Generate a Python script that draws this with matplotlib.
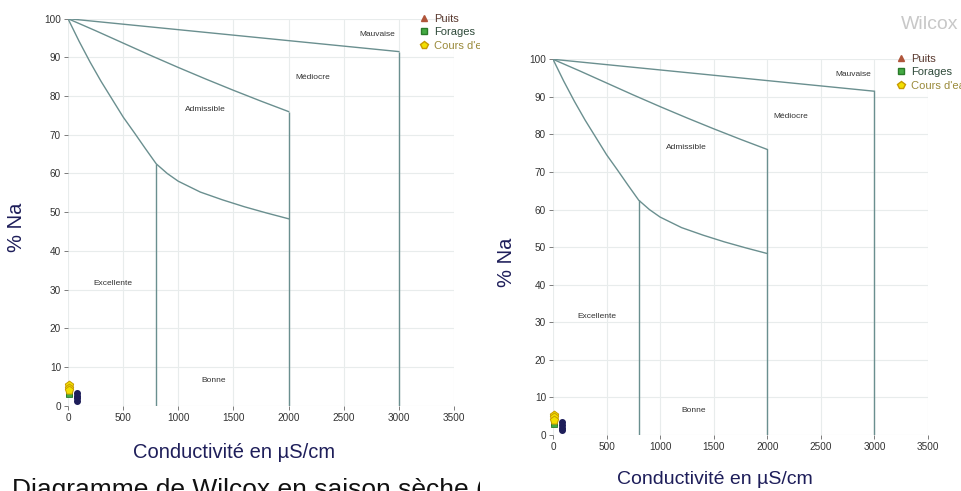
import matplotlib

matplotlib.use("Agg")
import matplotlib.pyplot as plt  # noqa: E402
from matplotlib.lines import Line2D  # noqa: E402
from matplotlib.patches import Rectangle  # noqa: E402

plt.rcParams["font.family"] = ["Liberation Sans", "DejaVu Sans"]

# Wilcox class boundaries (conductivity in uS/cm, % Na)
upper_x = [0, 3000]
upper_y = [100, 91.5]
middle_x = [0, 250, 500, 750, 1000, 1250, 1500, 1750, 2000]
middle_y = [100, 96.9, 93.7, 90.5, 87.4, 84.4, 81.5, 78.7, 76.0]
lower_x = [0, 100, 200, 300, 400, 500, 600, 700, 800, 900, 1000,
           1200, 1400, 1600, 1800, 2000]
lower_y = [100, 94.2, 88.8, 83.8, 79.2, 74.6, 70.6, 66.5, 62.5, 60.0, 58.0,
           55.2, 53.2, 51.4, 49.8, 48.3]
vert_x = [800, 2000, 3000]
vert_top = [62.5, 76.0, 91.5]

zone_names = ["Mauvaise", "Médiocre", "Admissible", "Excellente", "Bonne"]
zone_x = [2800, 2222, 1248, 405, 1316]
zone_y = [95.9, 84.7, 76.6, 31.6, 6.5]

# samples near the origin
cours_x = [12, 12, 12]
cours_y = [5.4, 4.7, 4.0]
forages_x = [12, 12]
forages_y = [3.4, 2.9]
autres_x = [80, 80, 80, 80]
autres_y = [3.4, 2.6, 1.9, 1.2]

x_ticks = [0, 500, 1000, 1500, 2000, 2500, 3000, 3500]
y_ticks = [0, 10, 20, 30, 40, 50, 60, 70, 80, 90, 100]

W, H = 962, 491
LINE = "#6a8f8f"
NAVY = "#1e1e5a"


def fig_box(x0, y_top, x1, y_bottom):
    return [x0 / W, 1 - y_bottom / H, (x1 - x0) / W, (y_bottom - y_top) / H]


def draw_wilcox(ax, legend_pos, fs_leg):
    ax.set_xlim(0, 3500)
    ax.set_ylim(0, 100)
    ax.set_xticks(x_ticks)
    ax.set_yticks(y_ticks)
    ax.grid(True, color="#e8ecec", lw=0.8)
    ax.set_axisbelow(True)
    for s in ax.spines.values():
        s.set_visible(False)
    ax.tick_params(labelsize=7.2, colors="#666666", length=3, width=0.6, pad=2,
                   labelcolor="#333333")

    ax.plot(upper_x, upper_y, color=LINE, lw=1.0)
    ax.plot(middle_x, middle_y, color=LINE, lw=1.0)
    ax.plot(lower_x, lower_y, color=LINE, lw=1.0)
    ax.vlines(vert_x, 0, vert_top, color=LINE, lw=1.0)
    for name, zx, zy in zip(zone_names, zone_x, zone_y):
        ax.text(zx, zy, name, fontsize=6, color="#333333", ha="center", va="center")

    ax.scatter(autres_x, autres_y, marker="o", s=16, color=NAVY, clip_on=False, zorder=4)
    ax.scatter(forages_x, forages_y, marker="s", s=18, color="#44aa44",
               edgecolor="#2a7a2a", lw=0.6, clip_on=False, zorder=4)
    ax.scatter(cours_x, cours_y, marker="p", s=40, color="#f2e000",
               edgecolor="#c89a00", lw=0.7, clip_on=False, zorder=5)

    handles = [
        Line2D([], [], ls="", marker="^", ms=5, color="#b0553a"),
        Line2D([], [], ls="", marker="s", ms=4.5, color="#44aa44", mec="#2a7a2a"),
        Line2D([], [], ls="", marker="p", ms=6, color="#f2e000", mec="#c89a00"),
    ]
    leg = ax.legend(handles, ["Puits", "Forages", "Cours d'eau"], loc="upper left",
                    bbox_to_anchor=legend_pos, bbox_transform=ax.figure.transFigure,
                    frameon=False, fontsize=fs_leg, handlelength=0.8,
                    handletextpad=0.5, labelspacing=0.3, borderpad=0,
                    borderaxespad=0)
    for t, c in zip(leg.get_texts(), ["#5a3a30", "#2f4a3a", "#9a8a3a"]):
        t.set_color(c)


fig = plt.figure(figsize=(W / 100, H / 100), dpi=100)

ax1 = fig.add_axes(fig_box(68, 18.7, 454, 405.7), zorder=0)
draw_wilcox(ax1, (420 / W, 1 - 14 / H), 8)
fig.text(17 / W, 1 - 227 / H, "% Na", rotation=90, fontsize=14.5, color=NAVY,
         ha="center", va="center")
fig.text(234 / W, 1 - 452 / H, "Conductivité en µS/cm", fontsize=14.5, color=NAVY,
         ha="center", va="center")
fig.text(12 / W, 1 - 478 / H, "Diagramme de Wilcox en saison sèche (Slovaquie)",
         fontsize=19, color="#111111", ha="left", va="top", zorder=0.5)

# the right-hand picture sits over the cut-off edge of the left one
fig.patches.append(Rectangle((480 / W, 0), 1 - 480 / W, 1, transform=fig.transFigure,
                             facecolor="white", edgecolor="none", zorder=1))

ax2 = fig.add_axes(fig_box(553, 59.3, 928, 435), zorder=2)
draw_wilcox(ax2, (897 / W, 1 - 54 / H), 8)
fig.text(507 / W, 1 - 262 / H, "% Na", rotation=90, fontsize=14.5, color=NAVY,
         ha="center", va="center", zorder=3)
fig.text(715 / W, 1 - 480 / H, "Conductivité en µS/cm", fontsize=14, color=NAVY,
         ha="center", va="center", zorder=3)
fig.text(901 / W, 1 - 24.5 / H, "Wilcox", fontsize=14, color="#c8c8c8",
         ha="left", va="center", zorder=3)

fig.savefig("out.png", dpi=100)
